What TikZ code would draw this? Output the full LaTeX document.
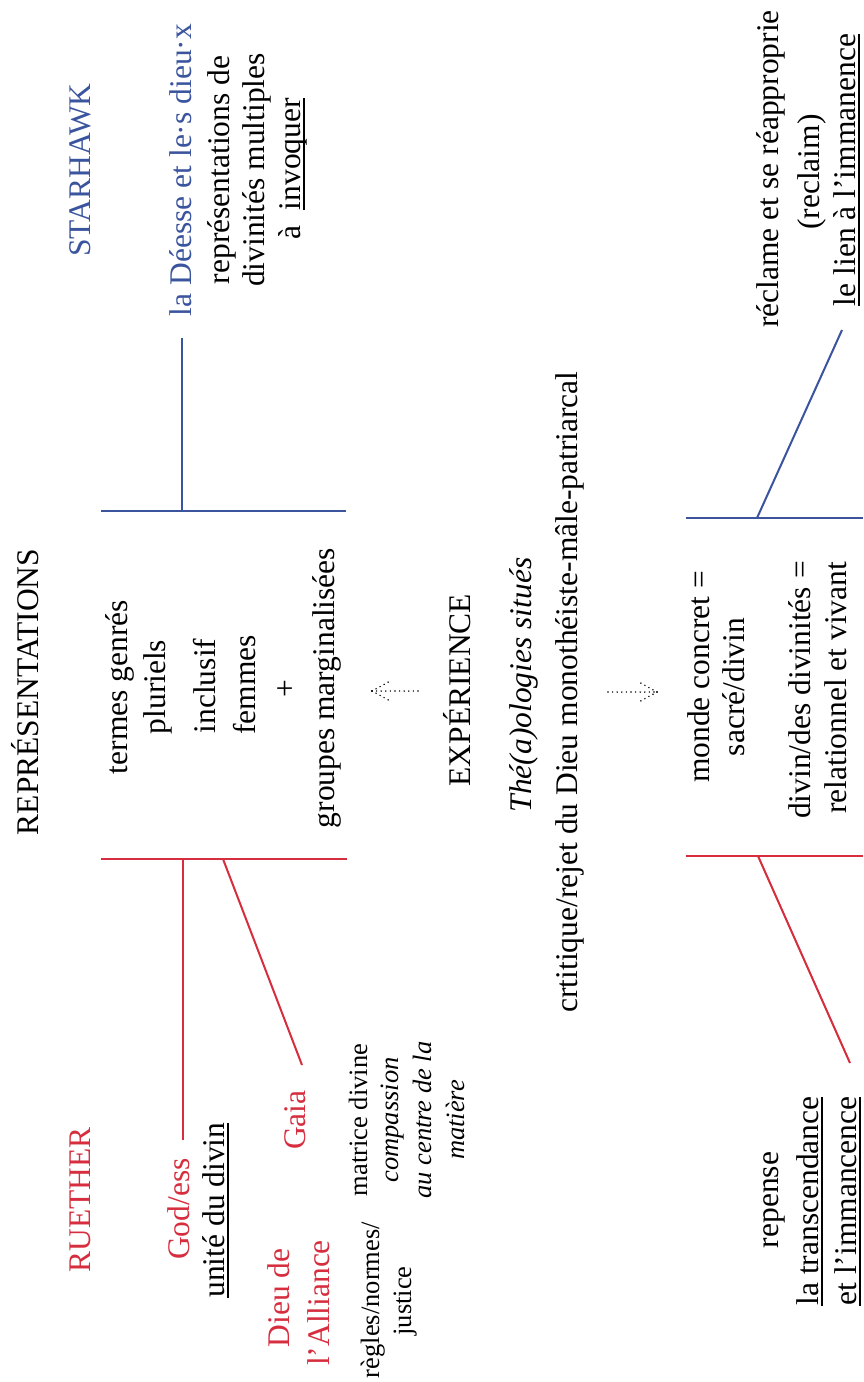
\documentclass[tikz,border=0pt]{standalone}
\usepackage{fontspec}
\setmainfont{Liberation Serif}
\definecolor{rred}{RGB}{214,46,62}
\definecolor{sblue}{RGB}{58,84,158}
% underline at a fixed depth below the baseline
\newcommand\ulx[1]{\setbox0\hbox{#1}\rlap{\rule[-0.16em]{\wd0}{0.055em}}\box0}

\begin{document}
\begin{tikzpicture}[x=1pt,y=-1pt,
  txt/.style={rotate=90, anchor=base, inner sep=0pt, font=\fontsize{31.5}{36}\selectfont},
  txtit/.style={txt, font=\fontsize{31.5}{36}\selectfont\itshape},
  sm/.style={rotate=90, anchor=base, inner sep=0pt, font=\fontsize{26.5}{32}\selectfont},
  smit/.style={sm, font=\fontsize{26.5}{32}\selectfont\itshape},
  bluebar/.style={draw=sblue, line width=2pt},
  redbar/.style={draw=rred, line width=2pt},
  dotline/.style={line width=1.6pt, line cap=round, dash pattern=on 0pt off 4.6pt}]

\fill[white] (0,0) rectangle (863,1382);
\useasboundingbox (0,0) rectangle (863,1382);

% ---- headings
\node[txt] (rep) at (38,692) {REPRÉSENTATIONS};
\node[txt, text=sblue] (star) at (90,170) {STARHAWK};
\node[txt, text=rred] (rue) at (90,1200) {RUETHER};

% ---- central column, upper part
\node[txt] (c1) at (127,687) {termes genrés};
\node[txt] (c2) at (165,687) {pluriels};
\node[txt] (c3) at (215,686) {inclusif};
\node[txt] (c4) at (255,685) {femmes};
\node[txt] (c5) at (295,689) {+};
\node[txt] (c6) at (334,688) {groupes marginalisées};

% ---- experience
\node[txt] (exp) at (470,690) {EXPÉRIENCE};
\node[txtit] (thea) at (531,685) {Thé(a)ologies situés};
\node[txt] (crit) at (577,692) {crtitique/rejet du Dieu monothéiste-mâle-patriarcal};

% ---- central column, lower part
\node[txt] (d1) at (709,677) {monde concret =};
\node[txt] (d2) at (744,687) {sacré/divin};
\node[txt] (d3) at (810,690) {divin/des divinités =};
\node[txt] (d4) at (846,688) {relationnel et vivant};

% ---- Starhawk, upper
\node[txt, text=sblue] (s1) at (191,170) {la Déesse et le·s dieu·x};
\node[txt] (s2) at (229,170) {représentations de};
\node[txt] (s3) at (264,170) {divinités multiples};
\node[txt] (s4) at (300,169) {à\hspace{0.5em}\ulx{invoquer}};

% ---- Starhawk, lower
\node[txt] (s5) at (778,169) {réclame et se réapproprie};
\node[txt] (s6) at (819,172) {(reclaim)};
\node[txt] (s7) at (855,170) {\ulx{le lien à l’immanence}};

% ---- Ruether, upper
\node[txt, text=rred] (r1) at (189,1209) {God/ess};
\node[txt] (r2) at (224,1210) {\ulx{unité du divin}};
\node[txt, text=rred] (r3) at (305,1120) {Gaia};
\node[txt, text=rred] (r4) at (289,1298) {Dieu de};
\node[txt, text=rred] (r5) at (329,1303) {l’Alliance};
\node[sm] (r6) at (379,1300) {règles/normes/};
\node[sm] (r7) at (411,1301) {justice};
\node[sm] (r8) at (367,1120) {matrice divine};
\node[smit] (r9) at (398,1120) {compassion};
\node[smit] (r10) at (431,1120) {au centre de la};
\node[smit] (r11) at (464,1120) {matière};

% ---- Ruether, lower
\node[txt] (r12) at (778,1200) {repense};
\node[txt] (r13) at (818,1201) {\ulx{la transcendance}};
\node[txt] (r14) at (856,1201) {\ulx{et l’immancence}};

% ---- bracket coordinates
\coordinate (bu1) at (101,511);  \coordinate (bu2) at (346,511);
\coordinate (bu3) at (182,511);  \coordinate (bu4) at (182,338);
\coordinate (ru1) at (101,859);  \coordinate (ru2) at (347,859);
\coordinate (ru3) at (183,859);  \coordinate (ru4) at (183,1140);
\coordinate (ru5) at (223,859);  \coordinate (ru6) at (302,1065);
\coordinate (bl1) at (686,518);  \coordinate (bl2) at (863,518);
\coordinate (bl3) at (757,518);  \coordinate (bl4) at (842,330);
\coordinate (rl1) at (686,856);  \coordinate (rl2) at (863,856);
\coordinate (rl3) at (758,856);  \coordinate (rl4) at (850,1063);

\draw[bluebar] (bu1) -- (bu2);
\draw[bluebar] (bu3) -- (bu4);
\draw[redbar] (ru1) -- (ru2);
\draw[redbar] (ru3) -- (ru4);
\draw[redbar] (ru5) -- (ru6);
\draw[bluebar] (bl1) -- (bl2);
\draw[bluebar] (bl3) -- (bl4);
\draw[redbar] (rl1) -- (rl2);
\draw[redbar] (rl3) -- (rl4);

% ---- dotted arrows
\coordinate (a1tail) at (418,691); \coordinate (a1tip) at (372,691);
\coordinate (a2tail) at (608,692); \coordinate (a2tip) at (657,692);
\draw[dotline] (a1tail) -- (a1tip);
\draw[dotline] (a1tip) -- ++(20,-11);
\draw[dotline] (a1tip) -- ++(20,11);
\draw[dotline] (a2tail) -- (a2tip);
\draw[dotline] (a2tip) -- ++(-20,-11);
\draw[dotline] (a2tip) -- ++(-20,11);
\end{tikzpicture}
\end{document}
